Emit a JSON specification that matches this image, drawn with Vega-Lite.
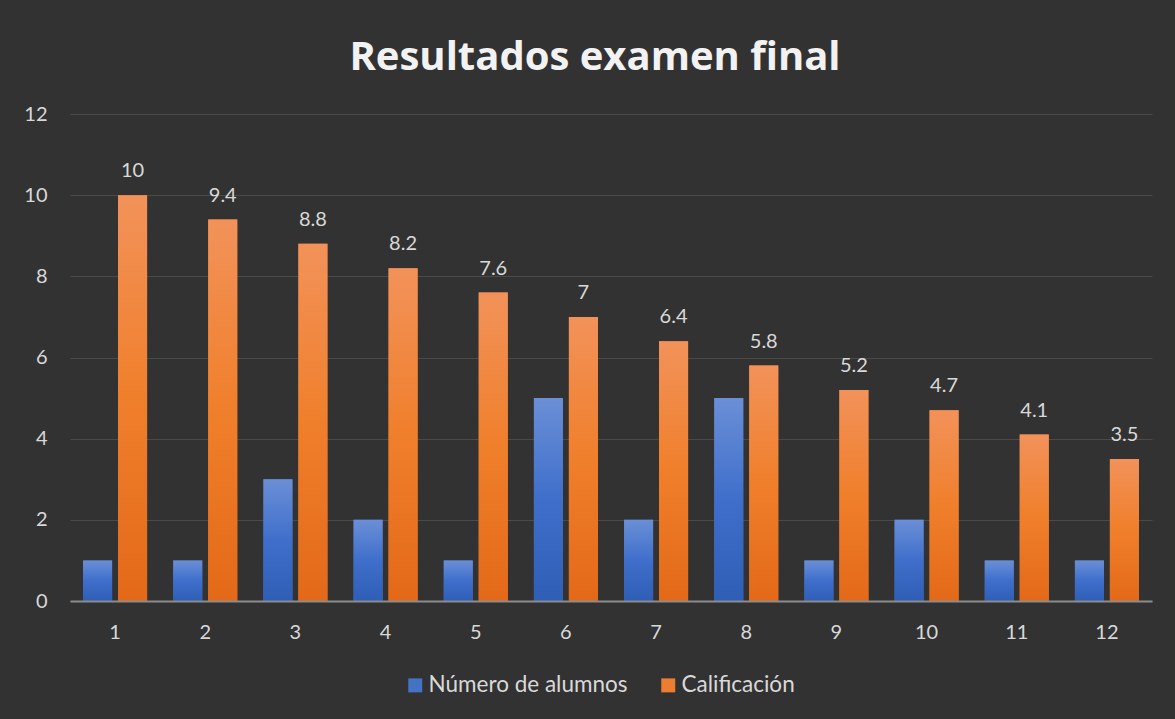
{
  "$schema": "https://vega.github.io/schema/vega-lite/v6.json",
  "autosize": {"type": "none"},
  "width": 1082,
  "height": 487,
  "padding": {"left": 70, "top": 114, "right": 23, "bottom": 118},
  "background": "#323232",
  "title": {
    "text": "Resultados examen final",
    "font": "Open Sans",
    "fontSize": 40,
    "fontWeight": "bold",
    "color": "#f2f2f2",
    "anchor": "middle",
    "frame": "group",
    "dx": -16,
    "offset": 26
  },
  "config": {
    "view": {"stroke": null},
    "font": "Lato"
  },
  "data": {
    "values": [
      {"n": "1", "serie": "Número de alumnos", "valor": 1},
      {"n": "2", "serie": "Número de alumnos", "valor": 1},
      {"n": "3", "serie": "Número de alumnos", "valor": 3},
      {"n": "4", "serie": "Número de alumnos", "valor": 2},
      {"n": "5", "serie": "Número de alumnos", "valor": 1},
      {"n": "6", "serie": "Número de alumnos", "valor": 5},
      {"n": "7", "serie": "Número de alumnos", "valor": 2},
      {"n": "8", "serie": "Número de alumnos", "valor": 5},
      {"n": "9", "serie": "Número de alumnos", "valor": 1},
      {"n": "10", "serie": "Número de alumnos", "valor": 2},
      {"n": "11", "serie": "Número de alumnos", "valor": 1},
      {"n": "12", "serie": "Número de alumnos", "valor": 1},
      {"n": "1", "serie": "Calificación", "valor": 10},
      {"n": "2", "serie": "Calificación", "valor": 9.4},
      {"n": "3", "serie": "Calificación", "valor": 8.8},
      {"n": "4", "serie": "Calificación", "valor": 8.2},
      {"n": "5", "serie": "Calificación", "valor": 7.6},
      {"n": "6", "serie": "Calificación", "valor": 7},
      {"n": "7", "serie": "Calificación", "valor": 6.4},
      {"n": "8", "serie": "Calificación", "valor": 5.8},
      {"n": "9", "serie": "Calificación", "valor": 5.2},
      {"n": "10", "serie": "Calificación", "valor": 4.7},
      {"n": "11", "serie": "Calificación", "valor": 4.1},
      {"n": "12", "serie": "Calificación", "valor": 3.5}
    ]
  },
  "encoding": {
    "x": {
      "field": "n",
      "type": "nominal",
      "sort": ["1","2","3","4","5","6","7","8","9","10","11","12"],
      "scale": {"paddingInner": 0.29, "paddingOuter": 0.145},
      "axis": {
        "title": null,
        "labelAngle": 0,
        "ticks": false,
        "labelPadding": 21,
        "labelFont": "Lato",
        "labelFontSize": 20,
        "labelColor": "#d9d9d9",
        "domainColor": "#8c8c8c",
        "domainWidth": 2,
        "grid": false,
        "zindex": 1
      }
    },
    "xOffset": {
      "field": "serie",
      "type": "nominal",
      "sort": ["Número de alumnos", "Calificación"],
      "scale": {"paddingInner": 0.17, "paddingOuter": 0}
    },
    "y": {
      "field": "valor",
      "type": "quantitative",
      "scale": {"domain": [0, 12], "nice": false},
      "axis": {
        "title": null,
        "values": [0, 2, 4, 6, 8, 10, 12],
        "ticks": false,
        "domain": false,
        "labelPadding": 23,
        "labelFont": "Lato",
        "labelFontSize": 20,
        "labelColor": "#d9d9d9",
        "gridColor": "#4a4a4a",
        "gridWidth": 1.2
      }
    }
  },
  "layer": [
    {
      "mark": {"type": "bar"},
      "encoding": {
        "color": {
          "field": "serie",
          "type": "nominal",
          "scale": {
            "domain": ["Número de alumnos", "Calificación"],
            "range": ["#4472c4", "#ed7d31"]
          },
          "legend": {
            "title": null,
            "orient": "none",
            "legendX": 334,
            "legendY": 560,
            "direction": "horizontal",
            "symbolType": "square",
            "symbolSize": 196,
            "symbolStrokeWidth": 0,
            "labelFont": "Lato",
            "labelFontSize": 22.5,
            "labelColor": "#d9d9d9",
            "labelOffset": 2,
            "labelLimit": 0,
            "columnPadding": 29
          }
        }
      }
    },
    {
      "transform": [{"filter": "datum.serie === 'Número de alumnos'"}],
      "mark": {
        "type": "bar",
        "color": {
          "gradient": "linear",
          "x1": 0, "y1": 0, "x2": 0, "y2": 1,
          "stops": [
            {"offset": 0, "color": "#6b8fd6"},
            {"offset": 0.5, "color": "#3f6fcb"},
            {"offset": 1, "color": "#2f5eb6"}
          ]
        }
      }
    },
    {
      "transform": [{"filter": "datum.serie === 'Calificación'"}],
      "mark": {
        "type": "bar",
        "color": {
          "gradient": "linear",
          "x1": 0, "y1": 0, "x2": 0, "y2": 1,
          "stops": [
            {"offset": 0, "color": "#f2925a"},
            {"offset": 0.5, "color": "#f07f2b"},
            {"offset": 1, "color": "#e36918"}
          ]
        }
      }
    },
    {
      "transform": [{"filter": "datum.serie === 'Calificación'"}],
      "mark": {
        "type": "text",
        "baseline": "alphabetic",
        "dy": -18,
        "font": "Lato",
        "fontSize": 20,
        "color": "#d9d9d9"
      },
      "encoding": {
        "text": {"field": "valor", "type": "quantitative"}
      }
    }
  ]
}
